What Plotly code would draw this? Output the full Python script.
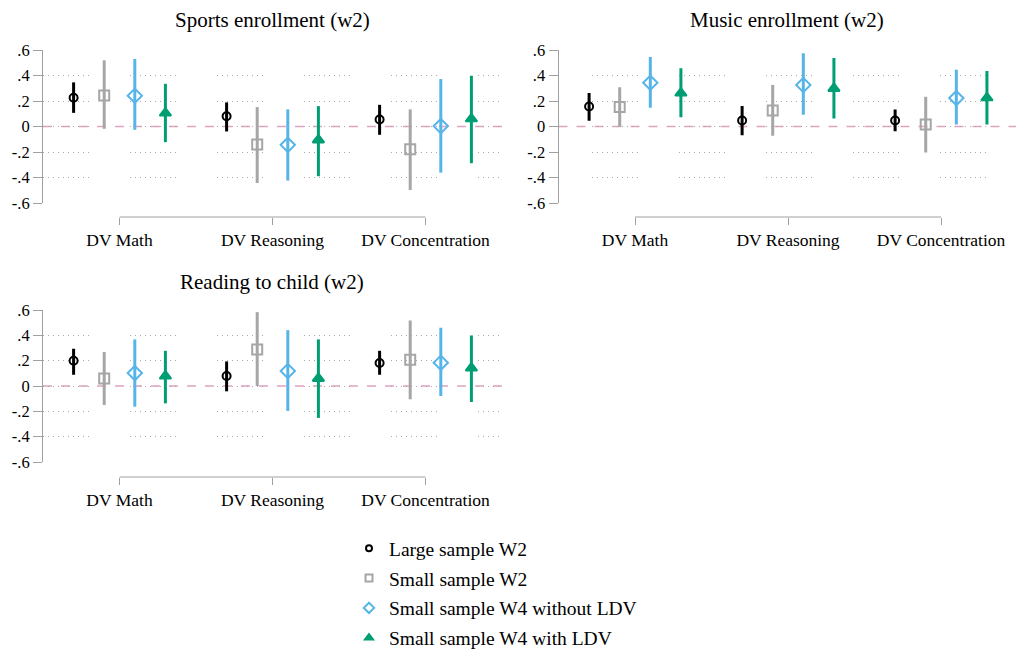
import plotly.graph_objects as go

categories = ["DV Math", "DV Reasoning", "DV Concentration"]
series_names = ["Large sample W2", "Small sample W2",
                "Small sample W4 without LDV", "Small sample W4 with LDV"]
panel_titles = ["Sports enrollment (w2)", "Music enrollment (w2)", "Reading to child (w2)"]
ytick_vals = [-0.6, -0.4, -0.2, 0, 0.2, 0.4, 0.6]
ytick_text = ["-.6", "-.4", "-.2", "0", ".2", ".4", ".6"]

# estimates [series][category], and CI upper / lower
sports_est = [[0.225, 0.081, 0.055], [0.244, -0.141, -0.178], [0.241, -0.144, 0.003], [0.105, -0.105, 0.060]]
sports_hi = [[0.346, 0.189, 0.170], [0.519, 0.152, 0.134], [0.529, 0.134, 0.372], [0.335, 0.160, 0.398]]
sports_lo = [[0.107, -0.039, -0.065], [-0.018, -0.443, -0.498], [-0.026, -0.424, -0.362], [-0.123, -0.390, -0.288]]

music_est = [[0.157, 0.047, 0.047], [0.152, 0.126, 0.016], [0.343, 0.325, 0.223], [0.262, 0.299, 0.225]]
music_hi = [[0.262, 0.160, 0.134], [0.307, 0.325, 0.233], [0.545, 0.574, 0.445], [0.456, 0.537, 0.435]]
music_lo = [[0.045, -0.068, -0.037], [0.000, -0.073, -0.204], [0.147, 0.092, 0.016], [0.073, 0.063, 0.016]]

reading_est = [[0.200, 0.079, 0.181], [0.060, 0.289, 0.207], [0.102, 0.118, 0.184], [0.079, 0.060, 0.142]]
reading_hi = [[0.294, 0.194, 0.278], [0.268, 0.583, 0.517], [0.368, 0.441, 0.460], [0.278, 0.368, 0.399]]
reading_lo = [[0.089, -0.042, 0.089], [-0.150, 0.000, -0.105], [-0.163, -0.197, -0.079], [-0.137, -0.252, -0.126]]

offsets = [-0.3, -0.1, 0.1, 0.3]
colors = ["#000000", "#a6a6a6", "#56b4e9", "#009e73"]
symbols = ["circle-open", "square-open", "diamond-open", "triangle-up"]
sizes = [8, 10, 11, 10]
legend_sizes = [6, 7, 8, 7]

FONT = "Liberation Serif"

panels = [
    (sports_est, sports_hi, sports_lo, "x", "y"),
    (music_est, music_hi, music_lo, "x2", "y2"),
    (reading_est, reading_hi, reading_lo, "x3", "y3"),
]

fig = go.Figure()
for p, (est, hi, lo, xa, ya) in enumerate(panels):
    for s in range(4):
        xs = [i + 1 + offsets[s] for i in range(3)]
        fig.add_trace(go.Scatter(
            x=xs, y=est[s], mode="markers", xaxis=xa, yaxis=ya,
            name=series_names[s], showlegend=False, legendgroup=series_names[s],
            marker=dict(symbol=symbols[s], size=sizes[s], color=colors[s],
                        line=dict(width=2, color=colors[s])),
            error_y=dict(type="data", symmetric=False,
                         array=[h - e for h, e in zip(hi[s], est[s])],
                         arrayminus=[e - l for e, l in zip(est[s], lo[s])],
                         color=colors[s], thickness=3, width=0),
            hoverinfo="skip",
        ))

# legend keys (smaller symbols, as in the original legend)
for s in range(4):
    fig.add_trace(go.Scatter(
        x=[None], y=[None], mode="markers", name=series_names[s],
        legendgroup=series_names[s], showlegend=True,
        marker=dict(symbol=symbols[s], size=legend_sizes[s], color=colors[s],
                    line=dict(width=2, color=colors[s])),
    ))

W, H = 1016, 652
xdomains = [[43 / W, 502 / W], [558.5 / W, 1.0], [43 / W, 502 / W]]
xranges = [[0.5, 3.5], [0.5, 3.49], [0.5, 3.5]]
ydomains = [[1 - 203 / H, 1 - 50 / H], [1 - 203 / H, 1 - 50 / H], [1 - 462 / H, 1 - 310 / H]]
xpos = [1 - 217 / H, 1 - 217 / H, 1 - 477 / H]
title_pos = [(272 / W, 1 - 20 / H), (787 / W, 1 - 20 / H), (272 / W, 1 - 282 / H)]


def seg_dash(lead_gap):
    # sparse dotted grid drawn in short runs, as in the original rendering
    parts = []
    if lead_gap > 0:
        parts += ["0px", "%dpx" % lead_gap]
    parts += ["1px", "4px"] * 9 + ["1px", "%dpx" % (41 - lead_gap)]
    return ",".join(parts)


grid_dashes = [seg_dash(0), seg_dash(33), seg_dash(0)]

layout = dict(
    width=W, height=H, margin=dict(l=0, r=0, t=0, b=0, autoexpand=False),
    paper_bgcolor="white", plot_bgcolor="white",
    font=dict(family=FONT, color="black"),
    showlegend=True,
    legend=dict(x=349 / W, y=-5 / H, xanchor="left", yanchor="bottom",
                font=dict(family=FONT, size=19.5, color="black"),
                bgcolor="rgba(0,0,0,0)", tracegroupgap=1.5, itemwidth=30),
)
shapes = []
annotations = []
for p in range(3):
    sfx = "" if p == 0 else str(p + 1)
    layout["xaxis" + sfx] = dict(
        domain=xdomains[p], range=xranges[p], anchor="free", position=xpos[p],
        tickvals=[1, 2, 3], ticktext=categories, ticks="outside", ticklen=7,
        tickcolor="#a0a0a0", tickwidth=1, showgrid=False, showline=False,
        zeroline=False, fixedrange=True, automargin=False,
        tickfont=dict(family=FONT, size=17.5, color="black"),
    )
    layout["yaxis" + sfx] = dict(
        domain=ydomains[p], range=[-0.6, 0.6], anchor="x" + sfx,
        tickvals=ytick_vals, ticktext=ytick_text, ticks="outside", ticklen=9,
        tickcolor="#a0a0a0", showline=True, linecolor="#a0a0a0", linewidth=1,
        showgrid=True, gridcolor="#a8a8a8", griddash=grid_dashes[p], gridwidth=1,
        zeroline=False, fixedrange=True, automargin=False,
        tickfont=dict(family=FONT, size=16.5, color="black"),
    )
    shapes.append(dict(type="line", xref="x" + sfx + " domain", x0=0, x1=1,
                       yref="y" + sfx, y0=0, y1=0, layer="below",
                       line=dict(color="#e0a3c1", width=1.5, dash="dash")))
    shapes.append(dict(type="line", xref="x" + sfx, x0=1, x1=3,
                       yref="paper", y0=xpos[p], y1=xpos[p],
                       line=dict(color="#a0a0a0", width=1)))
    annotations.append(dict(text=panel_titles[p], x=title_pos[p][0], y=title_pos[p][1],
                            xref="paper", yref="paper", showarrow=False,
                            xanchor="center", yanchor="middle",
                            font=dict(family=FONT, size=21, color="black")))
layout["shapes"] = shapes
layout["annotations"] = annotations
fig.update_layout(**layout)

fig.write_html("out.html", config={"displayModeBar": False},
               post_script="document.body.style.margin='0';")
